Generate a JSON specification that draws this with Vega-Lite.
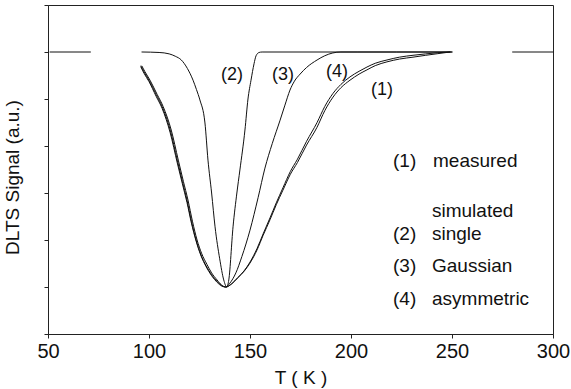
{
  "$schema": "https://vega.github.io/schema/vega-lite/v6.json",
  "width": 505,
  "height": 329,
  "autosize": {"type": "none"},
  "padding": {"left": 48, "top": 5, "right": 18, "bottom": 55},
  "background": "white",
  "config": {
    "view": {"stroke": "#222", "strokeWidth": 1},
    "font": "Liberation Sans",
    "axis": {"domainColor": "#222", "tickColor": "#222", "labelColor": "#111", "titleColor": "#111", "grid": false, "titleFontWeight": "normal", "labelFont": "Liberation Sans", "titleFont": "Liberation Sans"}
  },
  "datasets": {
    "curves": [
      {"s": "0a", "T": 51, "v": 0}, {"s": "0a", "T": 71, "v": 0},
      {"s": "0b", "T": 280, "v": 0}, {"s": "0b", "T": 300, "v": 0},

      {"s": "2", "T": 96.5, "v": 0}, {"s": "2", "T": 105, "v": -0.01}, {"s": "2", "T": 110, "v": -0.04},
      {"s": "2", "T": 113, "v": -0.09}, {"s": "2", "T": 116, "v": -0.17}, {"s": "2", "T": 119, "v": -0.35},
      {"s": "2", "T": 121.8, "v": -0.6}, {"s": "2", "T": 123.5, "v": -0.8}, {"s": "2", "T": 125.2, "v": -1.02},
      {"s": "2", "T": 127.7, "v": -1.51}, {"s": "2", "T": 129.2, "v": -2.3}, {"s": "2", "T": 131, "v": -3.0},
      {"s": "2", "T": 132.7, "v": -3.72}, {"s": "2", "T": 135, "v": -4.4}, {"s": "2", "T": 137, "v": -4.85},
      {"s": "2", "T": 138.5, "v": -5.0}, {"s": "2", "T": 139.5, "v": -4.85}, {"s": "2", "T": 141.6, "v": -3.72},
      {"s": "2", "T": 143.5, "v": -3.0}, {"s": "2", "T": 145, "v": -2.51}, {"s": "2", "T": 147.5, "v": -1.66},
      {"s": "2", "T": 149, "v": -1.0}, {"s": "2", "T": 150.5, "v": -0.6}, {"s": "2", "T": 152, "v": -0.25},
      {"s": "2", "T": 153, "v": -0.08}, {"s": "2", "T": 154.5, "v": -0.01}, {"s": "2", "T": 156, "v": 0},
      {"s": "2", "T": 250, "v": 0},

      {"s": "1", "T": 96.5, "v": -0.3}, {"s": "1", "T": 98, "v": -0.42}, {"s": "1", "T": 100.5, "v": -0.6},
      {"s": "1", "T": 104, "v": -0.9}, {"s": "1", "T": 107, "v": -1.16}, {"s": "1", "T": 111, "v": -1.66},
      {"s": "1", "T": 114.5, "v": -2.3}, {"s": "1", "T": 117, "v": -2.75}, {"s": "1", "T": 119.3, "v": -3.15},
      {"s": "1", "T": 121.5, "v": -3.6}, {"s": "1", "T": 123.8, "v": -4.0}, {"s": "1", "T": 126, "v": -4.28},
      {"s": "1", "T": 128.7, "v": -4.52}, {"s": "1", "T": 131, "v": -4.7}, {"s": "1", "T": 133.7, "v": -4.85},
      {"s": "1", "T": 136, "v": -4.96}, {"s": "1", "T": 138, "v": -5.0}, {"s": "1", "T": 141, "v": -4.93},
      {"s": "1", "T": 144, "v": -4.8}, {"s": "1", "T": 147, "v": -4.67}, {"s": "1", "T": 150, "v": -4.49},
      {"s": "1", "T": 153.5, "v": -4.21}, {"s": "1", "T": 156.5, "v": -3.9}, {"s": "1", "T": 159.9, "v": -3.57},
      {"s": "1", "T": 163, "v": -3.25}, {"s": "1", "T": 166.3, "v": -2.94}, {"s": "1", "T": 170, "v": -2.6},
      {"s": "1", "T": 173.5, "v": -2.35}, {"s": "1", "T": 178, "v": -1.98}, {"s": "1", "T": 183.2, "v": -1.6},
      {"s": "1", "T": 187, "v": -1.25}, {"s": "1", "T": 191.1, "v": -0.96}, {"s": "1", "T": 195, "v": -0.76},
      {"s": "1", "T": 199.5, "v": -0.6}, {"s": "1", "T": 204, "v": -0.47}, {"s": "1", "T": 207.9, "v": -0.38},
      {"s": "1", "T": 212, "v": -0.29}, {"s": "1", "T": 217.8, "v": -0.21}, {"s": "1", "T": 224, "v": -0.15},
      {"s": "1", "T": 230.7, "v": -0.11}, {"s": "1", "T": 237, "v": -0.07}, {"s": "1", "T": 243, "v": -0.035},
      {"s": "1", "T": 249, "v": 0},

      {"s": "4", "T": 96, "v": -0.3}, {"s": "4", "T": 97.5, "v": -0.42}, {"s": "4", "T": 100, "v": -0.6},
      {"s": "4", "T": 103.5, "v": -0.9}, {"s": "4", "T": 106.5, "v": -1.16}, {"s": "4", "T": 110.5, "v": -1.66},
      {"s": "4", "T": 114, "v": -2.3}, {"s": "4", "T": 116.5, "v": -2.75}, {"s": "4", "T": 118.8, "v": -3.15},
      {"s": "4", "T": 121, "v": -3.6}, {"s": "4", "T": 123.3, "v": -4.0}, {"s": "4", "T": 125.6, "v": -4.3},
      {"s": "4", "T": 128.3, "v": -4.55}, {"s": "4", "T": 131, "v": -4.74}, {"s": "4", "T": 133.7, "v": -4.88},
      {"s": "4", "T": 136, "v": -4.97}, {"s": "4", "T": 138, "v": -5.0}, {"s": "4", "T": 141, "v": -4.93},
      {"s": "4", "T": 144, "v": -4.8}, {"s": "4", "T": 147, "v": -4.66}, {"s": "4", "T": 150, "v": -4.47},
      {"s": "4", "T": 153.5, "v": -4.18}, {"s": "4", "T": 156.5, "v": -3.87}, {"s": "4", "T": 159.9, "v": -3.53},
      {"s": "4", "T": 163, "v": -3.21}, {"s": "4", "T": 166.3, "v": -2.89}, {"s": "4", "T": 170, "v": -2.54},
      {"s": "4", "T": 173.5, "v": -2.28}, {"s": "4", "T": 178, "v": -1.9}, {"s": "4", "T": 183.2, "v": -1.5},
      {"s": "4", "T": 187, "v": -1.16}, {"s": "4", "T": 191.1, "v": -0.88}, {"s": "4", "T": 195, "v": -0.69},
      {"s": "4", "T": 199.5, "v": -0.53}, {"s": "4", "T": 204, "v": -0.41}, {"s": "4", "T": 207.9, "v": -0.32},
      {"s": "4", "T": 212, "v": -0.24}, {"s": "4", "T": 217.8, "v": -0.17}, {"s": "4", "T": 224, "v": -0.11},
      {"s": "4", "T": 230.7, "v": -0.07}, {"s": "4", "T": 237, "v": -0.04}, {"s": "4", "T": 243, "v": -0.015},
      {"s": "4", "T": 249, "v": 0},

      {"s": "3", "T": 96, "v": -0.32}, {"s": "3", "T": 97.5, "v": -0.45}, {"s": "3", "T": 100, "v": -0.63},
      {"s": "3", "T": 103.5, "v": -0.94}, {"s": "3", "T": 106.5, "v": -1.2}, {"s": "3", "T": 110.5, "v": -1.72},
      {"s": "3", "T": 114, "v": -2.36}, {"s": "3", "T": 116.5, "v": -2.8}, {"s": "3", "T": 118.8, "v": -3.2},
      {"s": "3", "T": 121, "v": -3.64}, {"s": "3", "T": 123.3, "v": -4.02}, {"s": "3", "T": 125.6, "v": -4.32},
      {"s": "3", "T": 128.3, "v": -4.57}, {"s": "3", "T": 131, "v": -4.76}, {"s": "3", "T": 133.7, "v": -4.9},
      {"s": "3", "T": 136, "v": -4.98}, {"s": "3", "T": 138, "v": -5.0}, {"s": "3", "T": 140, "v": -4.92},
      {"s": "3", "T": 143, "v": -4.7}, {"s": "3", "T": 146, "v": -4.35}, {"s": "3", "T": 150, "v": -3.79},
      {"s": "3", "T": 154, "v": -3.1}, {"s": "3", "T": 157.4, "v": -2.47}, {"s": "3", "T": 161, "v": -1.95},
      {"s": "3", "T": 164.9, "v": -1.45}, {"s": "3", "T": 167.3, "v": -1.13}, {"s": "3", "T": 169.8, "v": -0.81},
      {"s": "3", "T": 172, "v": -0.62}, {"s": "3", "T": 174.8, "v": -0.47}, {"s": "3", "T": 178, "v": -0.33},
      {"s": "3", "T": 183.2, "v": -0.17}, {"s": "3", "T": 187, "v": -0.08}, {"s": "3", "T": 191, "v": -0.02},
      {"s": "3", "T": 195, "v": 0}, {"s": "3", "T": 250, "v": 0}
    ],
    "labels": [
      {"T": 141.1, "v": -0.49, "t": "(2)"},
      {"T": 166.3, "v": -0.49, "t": "(3)"},
      {"T": 193.1, "v": -0.43, "t": "(4)"},
      {"T": 215.3, "v": -0.81, "t": "(1)"}
    ],
    "legend": [
      {"T": 220.8, "v": -2.32, "t": "(1)"},
      {"T": 240.6, "v": -2.32, "t": "measured"},
      {"T": 240.1, "v": -3.38, "t": "simulated"},
      {"T": 220.8, "v": -3.87, "t": "(2)"},
      {"T": 240.1, "v": -3.87, "t": "single"},
      {"T": 220.8, "v": -4.55, "t": "(3)"},
      {"T": 240.1, "v": -4.55, "t": "Gaussian"},
      {"T": 220.8, "v": -5.26, "t": "(4)"},
      {"T": 240.1, "v": -5.26, "t": "asymmetric"}
    ]
  },
  "layer": [
    {
      "data": {"name": "curves"},
      "mark": {"type": "line", "interpolate": "monotone", "color": "#111", "strokeCap": "round"},
      "encoding": {
        "x": {"field": "T", "type": "quantitative", "scale": {"domain": [50, 300], "nice": false, "zero": false},
          "axis": {"values": [50, 100, 150, 200, 250, 300], "title": "T ( K )", "labelFontSize": 20, "titleFontSize": 19, "tickSize": 4, "labelPadding": 3, "titlePadding": 7, "labelFlush": false}},
        "y": {"field": "v", "type": "quantitative", "scale": {"domain": [-6, 1], "nice": false, "zero": false},
          "axis": {"values": [-6, -5, -4, -3, -2, -1, 0, 1], "labels": false, "title": "DLTS  Signal  (a.u.)", "titleFontSize": 19, "tickSize": 4, "titlePadding": 21, "titleY": 172}},
        "detail": {"field": "s", "type": "nominal"},
        "strokeWidth": {"field": "s", "type": "nominal", "scale": {"domain": ["0a", "0b", "1", "2", "3", "4"], "range": [1, 1, 1.6, 1, 1, 1]}, "legend": null}
      }
    },
    {
      "data": {"name": "labels"},
      "mark": {"type": "text", "fontSize": 18, "color": "#111", "align": "center", "baseline": "middle"},
      "encoding": {
        "x": {"field": "T", "type": "quantitative"},
        "y": {"field": "v", "type": "quantitative"},
        "text": {"field": "t"}
      }
    },
    {
      "data": {"name": "legend"},
      "mark": {"type": "text", "fontSize": 19, "color": "#111", "align": "left", "baseline": "middle"},
      "encoding": {
        "x": {"field": "T", "type": "quantitative"},
        "y": {"field": "v", "type": "quantitative"},
        "text": {"field": "t"}
      }
    }
  ]
}
